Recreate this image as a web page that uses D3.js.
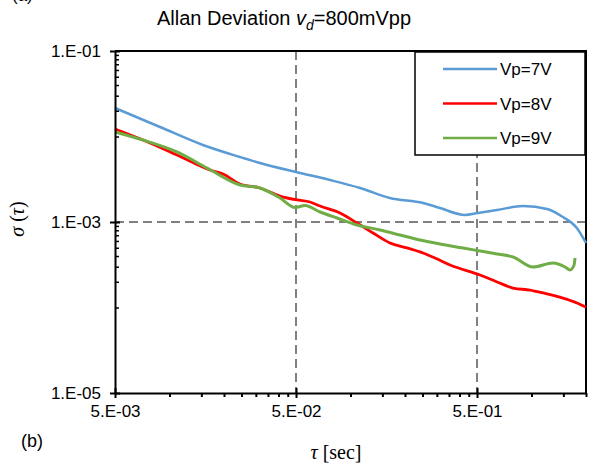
<!DOCTYPE html>
<html>
<head>
<meta charset="utf-8">
<script src="https://cdn.jsdelivr.net/npm/d3@7"></script>
<style>
  body { margin: 0; background: #fff; }
  text { font-family: "Liberation Sans", Arial, sans-serif; }
</style>
</head>
<body>
<script>
// tau [sec] and sigma(tau)
var tau7 = [0.005, 0.00886, 0.0153, 0.0245, 0.0316, 0.05, 0.0771, 0.113, 0.165, 0.252, 0.312, 0.429, 0.506, 0.645, 0.898, 1.22, 1.49, 1.78, 2.0];
var sig7 = [0.02154, 0.01292, 0.00796, 0.00576, 0.0049, 0.00384, 0.0031, 0.0025, 0.00191, 0.00167, 0.001458, 0.001208, 0.001274, 0.001381, 0.001539, 0.001419, 0.001144, 0.000851, 0.000568];

var tau8 = [0.005, 0.00714, 0.011, 0.01674, 0.01975, 0.0245, 0.0316, 0.0408, 0.0506, 0.0597, 0.0679, 0.0875, 0.1086, 0.1332, 0.1652, 0.2053, 0.2516, 0.2931, 0.3547, 0.5195, 0.6449, 0.7904, 0.981, 1.158, 1.493, 1.784, 2.0];
var sig8 = [0.01224, 0.0091, 0.00608, 0.00406, 0.00364, 0.00278, 0.0025, 0.00201, 0.00181, 0.001714, 0.001539, 0.001274, 0.000973, 0.000744, 0.000568, 0.000497, 0.000434, 0.000379, 0.000314, 0.00024, 0.000199, 0.000169, 0.00016, 0.000148, 0.000129, 0.000113, 0.000101];

var tau9 = [0.005, 0.00714, 0.011, 0.01612, 0.0245, 0.0316, 0.0408, 0.0494, 0.0561, 0.0679, 0.0842, 0.1086, 0.1455, 0.1877, 0.2421, 0.3124, 0.4184, 0.5195, 0.6449, 0.7904, 1.02, 1.315, 1.532, 1.632, 1.718, 1.74];
var sig9 = [0.01129, 0.0091, 0.00659, 0.00428, 0.00271, 0.0025, 0.00191, 0.00148, 0.00156, 0.001309, 0.001114, 0.000922, 0.000806, 0.000705, 0.000616, 0.000553, 0.000497, 0.000458, 0.000422, 0.00039, 0.000298, 0.000332, 0.000298, 0.000275, 0.000314, 0.000379];

var seriesNames = ["Vp=7V", "Vp=8V", "Vp=9V"];
var seriesColors = ["#5b9bd5", "#ff0000", "#70ad47"];

var xTickVals = [0.005, 0.05, 0.5];
var xTickLabels = ["5.E-03", "5.E-02", "5.E-01"];
var yTickVals = [1e-1, 1e-3, 1e-5];
var yTickLabels = ["1.E-01", "1.E-03", "1.E-05"];

var width = 595, height = 466;
var plotL = 115, plotR = 586, plotT = 51, plotB = 393;

var svg = d3.select("body").append("svg")
    .attr("width", width)
    .attr("height", height);

var x = d3.scaleLog().domain([0.005, 2]).range([plotL, plotR]);
var y = d3.scaleLog().domain([1e-5, 1e-1]).range([plotB, plotT]);

// minor tick positions (Excel style)
var xMinor = [];
xTickVals.forEach(function(b) {
  for (var k = 2; k <= 9; k++) { if (b * k <= 2) xMinor.push(b * k); }
});
var yMinor = [];
[1e-4, 1e-2].forEach(function(b) {
  for (var k = 1; k <= 9; k++) yMinor.push(b * k);
});

// dashed gridlines
svg.selectAll(".vgrid")
    .data([0.05, 0.5])
  .enter().append("line")
    .attr("x1", function(d) { return x(d); })
    .attr("x2", function(d) { return x(d); })
    .attr("y1", plotT)
    .attr("y2", plotB)
    .style("stroke", "#808080")
    .style("stroke-width", 2)
    .style("stroke-dasharray", "9,5");

svg.append("line")
    .attr("x1", plotL).attr("x2", plotR)
    .attr("y1", y(1e-3)).attr("y2", y(1e-3))
    .style("stroke", "#808080")
    .style("stroke-width", 2)
    .style("stroke-dasharray", "9,5");

// top and right frame
svg.append("path")
    .attr("d", "M" + plotL + "," + plotT + "H" + plotR + "V" + plotB)
    .style("fill", "none")
    .style("stroke", "#000")
    .style("stroke-width", 2);

// series lines
var line = d3.line()
    .x(function(d) { return x(d[0]); })
    .y(function(d) { return y(d[1]); })
    .curve(d3.curveMonotoneX);

var series = [d3.zip(tau7, sig7), d3.zip(tau8, sig8), d3.zip(tau9, sig9)];
var widths = [2.5, 2.8, 3];

series.forEach(function(s, i) {
  svg.append("path")
      .datum(s)
      .attr("d", line)
      .style("fill", "none")
      .style("stroke", seriesColors[i])
      .style("stroke-width", widths[i])
      .style("stroke-linejoin", "round");
});

// x axis
svg.append("g")
    .attr("transform", "translate(0," + plotB + ")")
    .call(d3.axisBottom(x).tickValues(xMinor).tickSize(4).tickFormat(""))
    .call(function(g) { g.select(".domain").remove(); })
    .selectAll("line").style("stroke-width", 2);

var xAxis = svg.append("g")
    .attr("transform", "translate(0," + plotB + ")")
    .call(d3.axisBottom(x).tickValues(xTickVals).tickSizeInner(5).tickSizeOuter(0)
      .tickFormat(function(d, i) { return xTickLabels[i]; }));
xAxis.select(".domain").style("stroke-width", 2);
xAxis.selectAll(".tick line").attr("y1", -5).style("stroke-width", 2);
xAxis.selectAll(".tick text")
    .attr("y", 12)
    .style("font-size", "17px")
    .style("font-family", "Liberation Sans, Arial, sans-serif");

// y axis
svg.append("g")
    .attr("transform", "translate(" + plotL + ",0)")
    .call(d3.axisRight(y).tickValues(yMinor).tickSize(4).tickFormat(""))
    .call(function(g) { g.select(".domain").remove(); })
    .selectAll("line").style("stroke-width", 1.5);

var yAxis = svg.append("g")
    .attr("transform", "translate(" + plotL + ",0)")
    .call(d3.axisLeft(y).tickValues(yTickVals).tickSizeInner(5).tickSizeOuter(0)
      .tickFormat(function(d, i) { return yTickLabels[i]; }));
yAxis.select(".domain").style("stroke-width", 2);
yAxis.selectAll(".tick line").attr("x2", 5).attr("x1", -5).style("stroke-width", 2);
yAxis.selectAll(".tick text")
    .attr("x", -14)
    .style("font-size", "17px")
    .style("font-family", "Liberation Sans, Arial, sans-serif");

// legend
var legend = svg.append("g");
legend.append("rect")
    .attr("x", 415).attr("y", 52)
    .attr("width", 170).attr("height", 103)
    .style("fill", "#fff")
    .style("stroke", "#000")
    .style("stroke-width", 1.5);

var items = legend.selectAll(".item")
    .data(seriesNames)
  .enter().append("g")
    .attr("transform", function(d, i) { return "translate(0," + (69 + i * 34.5) + ")"; });

items.append("line")
    .attr("x1", 443).attr("x2", 497)
    .style("stroke", function(d, i) { return seriesColors[i]; })
    .style("stroke-width", 2.5);

items.append("text")
    .attr("x", 500)
    .attr("y", 6)
    .style("font-size", "17px")
    .text(function(d) { return d; });

// title
var title = svg.append("text")
    .attr("x", 284)
    .attr("y", 25)
    .style("text-anchor", "middle")
    .style("font-size", "20px");
title.append("tspan").text("Allan Deviation ");
title.append("tspan").style("font-style", "italic").text("v");
title.append("tspan").style("font-style", "italic").style("font-size", "14px")
    .attr("dy", 5).text("d");
title.append("tspan").attr("dy", -5).text("=800mVpp");

// panel labels
svg.append("text")
    .attr("x", 12).attr("y", 1)
    .style("font-size", "17px")
    .text("(a)");

svg.append("text")
    .attr("x", 21).attr("y", 447)
    .style("font-size", "18px")
    .text("(b)");

// axis titles
var xt = svg.append("text")
    .attr("x", 336).attr("y", 459)
    .style("text-anchor", "middle")
    .style("font-family", "Liberation Serif, serif")
    .style("font-size", "20px");
xt.append("tspan").style("font-style", "italic").text("τ");
xt.append("tspan").text(" [sec]");

var yt = svg.append("text")
    .attr("transform", "translate(24,219) rotate(-90)")
    .style("text-anchor", "middle")
    .style("font-family", "Liberation Serif, serif")
    .style("font-size", "20px");
yt.append("tspan").style("font-style", "italic").text("σ");
yt.append("tspan").text(" (");
yt.append("tspan").style("font-style", "italic").text("τ");
yt.append("tspan").text(")");
</script>
</body>
</html>
